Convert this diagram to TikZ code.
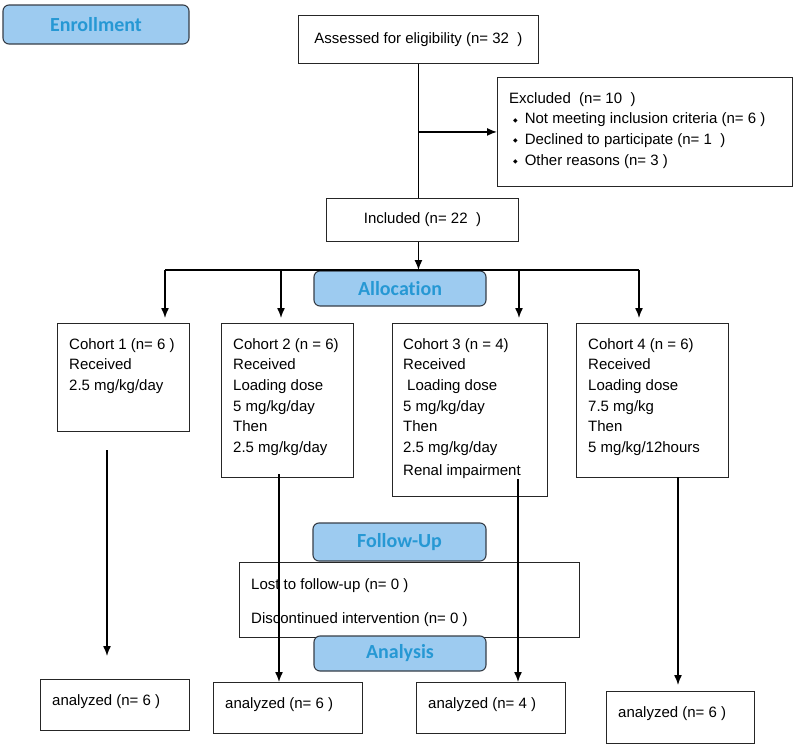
\documentclass[tikz,border=0pt]{standalone}
\usepackage{fontspec}
\setmainfont{Liberation Sans}
\newfontfamily\hdrfont[Ligatures=NoCommon]{Carlito}
\newfontfamily\symfont{DejaVu Sans}
\usetikzlibrary{arrows.meta}
\definecolor{hdrfill}{RGB}{157,203,240}
\definecolor{hdrtext}{RGB}{38,152,212}
\definecolor{hdrline}{RGB}{55,62,72}
\newcommand{\dbul}{\hspace*{4pt}\raisebox{1.5pt}{\symfont\fontsize{6}{6}\selectfont ◆}\hspace{7pt}}
\tikzset{
  box/.style={draw=black!85, line width=0.9pt, fill=white, inner sep=0pt,
    anchor=north west, font=\fontsize{15}{20.7}\selectfont},
  txt/.style={inner sep=0pt, anchor=north west, align=left,
    font=\fontsize{15}{20.7}\selectfont},
  hdr/.style={draw=hdrline, line width=1.1pt, fill=hdrfill, rounded corners=6pt,
    text=hdrtext, font=\hdrfont\bfseries\fontsize{20}{24}\selectfont},
  conn/.style={line width=1.4pt},
  arr/.style={line width=1.4pt, -{Latex[length=10pt,width=8pt]}}
}
\begin{document}
\begin{tikzpicture}[x=1pt, y=-1pt]
  \useasboundingbox (0,0) rectangle (796,747);
  % enrollment
  \node[hdr, minimum width=186, minimum height=39] (enrol) at (96,24.5) {Enrollment};
  \node[box, minimum width=240, minimum height=48] (assess) at (298,15)
    {Assessed for eligibility (n= 32\ \ )};
  \node[box, minimum width=295, minimum height=109] (excl) at (497,77) {};
  \node[txt] (excl-t) at ([shift={(12,15)}]excl.north west)
    {Excluded\ \ (n= 10\ \ )\\
     \dbul Not meeting inclusion criteria (n= 6 )\\
     \dbul Declined to participate (n= 1\ \ )\\
     \dbul Other reasons (n= 3 )};
  \node[box, minimum width=192, minimum height=43] (incl) at (326,198)
    {Included (n= 22\ \ )};
  % allocation
  \node[hdr, minimum width=172, minimum height=35] (alloc) at (400,288.5) {Allocation};
  \node[box, minimum width=132, minimum height=108] (c1) at (57,323) {};
  \node[box, minimum width=132, minimum height=154] (c2) at (221,323) {};
  \node[box, minimum width=155, minimum height=173] (c3) at (392,323) {};
  \node[box, minimum width=152, minimum height=154] (c4) at (576,323) {};
  \node[txt] (c1-t) at ([shift={(12,15)}]c1.north west)
    {Cohort 1 (n= 6 )\\Received\\2.5 mg/kg/day};
  \node[txt] (c2-t) at ([shift={(12,15)}]c2.north west)
    {Cohort 2 (n = 6)\\Received\\Loading dose\\5 mg/kg/day\\Then\\2.5 mg/kg/day};
  \node[txt] (c3-t) at ([shift={(11,15)}]c3.north west)
    {Cohort 3 (n = 4)\\Received\\\hspace*{4pt}Loading dose\\5 mg/kg/day\\Then\\
     2.5 mg/kg/day\\[2pt]Renal impairment};
  \node[txt] (c4-t) at ([shift={(12,15)}]c4.north west)
    {Cohort 4 (n = 6)\\Received\\Loading dose\\7.5 mg/kg\\Then\\5 mg/kg/12hours};
  % follow-up
  \node[hdr, minimum width=173, minimum height=38] (follow) at (399.5,542) {Follow-Up};
  \node[box, minimum width=340, minimum height=75] (lost) at (239,562) {};
  \node[txt] (lost-t) at ([shift={(12,16)}]lost.north west)
    {Lost to follow-up (n= 0 )\\[14pt]Discontinued intervention (n= 0 )};
  % analysis
  \node[box, minimum width=149, minimum height=51] (a1) at (40,679) {};
  \node[box, minimum width=149, minimum height=51] (a2) at (213,682) {};
  \node[box, minimum width=149, minimum height=51] (a3) at (416,682) {};
  \node[box, minimum width=148, minimum height=52] (a4) at (606,691) {};
  \node[txt] (a1-t) at ([shift={(12,15)}]a1.north west) {analyzed (n= 6 )};
  \node[txt] (a2-t) at ([shift={(12,15)}]a2.north west) {analyzed (n= 6 )};
  \node[txt] (a3-t) at ([shift={(12,15)}]a3.north west) {analyzed (n= 4 )};
  \node[txt] (a4-t) at ([shift={(12,15)}]a4.north west) {analyzed (n= 6 )};
  % connectors
  \coordinate (ex) at (assess.south |- excl.west);
  \coordinate (split) at (assess.south |- 0,270);
  \coordinate (s1) at (165,270);
  \coordinate (s2) at (281,270);
  \coordinate (s3) at (519,270);
  \coordinate (s4) at (639,270);
  \coordinate (c1-out) at (107,450);
  \coordinate (c2-out) at (279,474);
  \coordinate (c3-out) at (518,479);
  \coordinate (c4-out) at (678,477);
  \draw[conn] (assess.south) -- (assess.south |- incl.north);
  \draw[arr] (ex) -- (excl.west);
  \draw[arr] (assess.south |- incl.south) -- (split);
  \draw[conn] (s1) -- (s4);
  \draw[arr, shorten >=5pt] (s1) -- (s1 |- c1.north);
  \draw[arr, shorten >=5pt] (s2) -- (s2 |- c2.north);
  \draw[arr, shorten >=5pt] (s3) -- (s3 |- c3.north);
  \draw[arr, shorten >=5pt] (s4) -- (s4 |- c4.north);
  \draw[arr, shorten >=23pt] (c1-out) -- (c1-out |- a1.north);
  \draw[arr] (c2-out) -- (c2-out |- a2.north);
  \draw[arr] (c3-out) -- (c3-out |- a3.north);
  \draw[arr, shorten >=6pt] (c4-out) -- (c4-out |- a4.north);
  \node[hdr, minimum width=172, minimum height=35] (anal) at (400,653.5) {Analysis};
\end{tikzpicture}
\end{document}
